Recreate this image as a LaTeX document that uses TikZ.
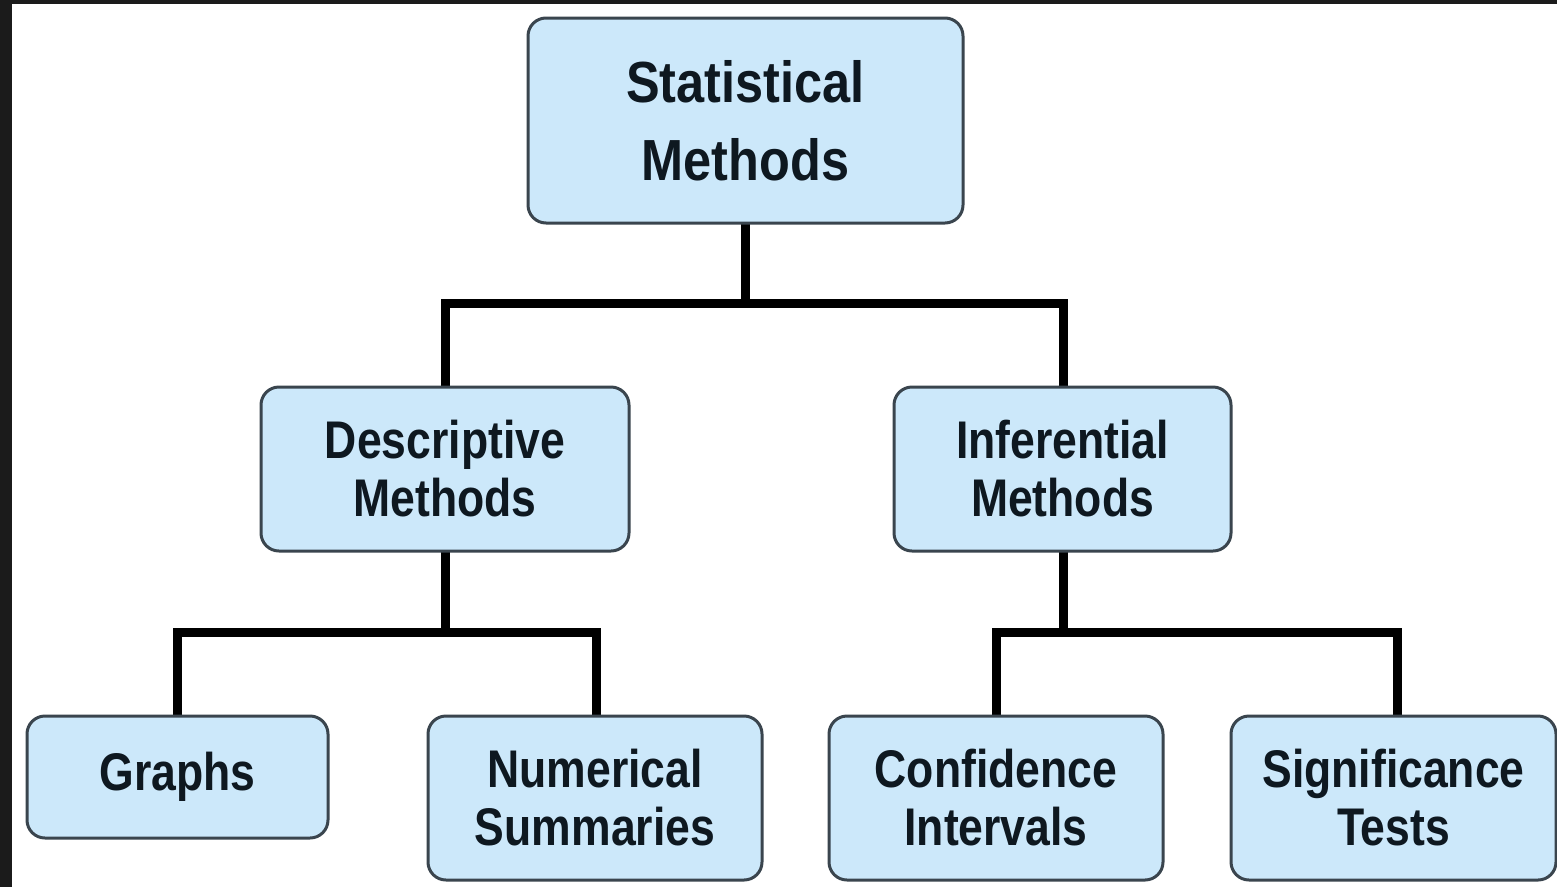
\documentclass[tikz,border=0pt]{standalone}
\usepackage{fontspec}
\newfontfamily\boxfont[FakeStretch=0.84]{Liberation Sans}
\newfontfamily\topfont[FakeStretch=0.87]{Liberation Sans}
\definecolor{boxfill}{HTML}{CCE8FA}
\definecolor{boxline}{HTML}{3A454E}
\definecolor{frame}{HTML}{1B1B1B}
\definecolor{txt}{HTML}{0E1820}
\tikzset{
  box/.style={draw=boxline, line width=3pt, fill=boxfill, rounded corners=18pt,
    text=txt, align=center, inner sep=0pt,
    font=\boxfont\bfseries\fontsize{53}{58}\selectfont},
  topbox/.style={box, font=\topfont\bfseries\fontsize{58}{78}\selectfont},
  conn/.style={line width=9pt, black, line join=miter}
}
\begin{document}
\begin{tikzpicture}[x=1pt,y=-1pt]
\useasboundingbox (0,0) rectangle (1557,887);
\fill[frame] (0,0) rectangle (1557,887);
\fill[white] (12,4) rectangle (1557,887);
% connectors
\coordinate (j1) at (745,303);
\coordinate (j2) at (445,632);
\coordinate (j3) at (1063,632);
\coordinate (dn) at (445,390);
\coordinate (in) at (1063,390);
\coordinate (gn) at (177,720);
\coordinate (nn) at (596,720);
\coordinate (cn) at (996,720);
\coordinate (sn) at (1397,720);
\coordinate (ts) at (745,220);
\coordinate (ds) at (445,548);
\coordinate (is) at (1063,548);
\draw[conn] (ts) -- (j1);
\draw[conn] (dn) |- (j1) -| (in);
\draw[conn] (ds) -- (j2);
\draw[conn] (gn) |- (j2) -| (nn);
\draw[conn] (is) -- (j3);
\draw[conn] (cn) |- (j3) -| (sn);
% boxes
\node[topbox, minimum width=435pt, minimum height=205pt] (top) at (745.5,120.5) {Statistical\\Methods};
\node[box, minimum width=368pt, minimum height=164pt] (desc) at (445,469) {Descriptive\\Methods};
\node[box, minimum width=337pt, minimum height=164pt] (inf) at (1062.5,469) {Inferential\\Methods};
\node[box, minimum width=301pt, minimum height=122pt] (graphs) at (177.5,777) {Graphs};
\node[box, minimum width=334pt, minimum height=164pt] (num) at (595,798) {Numerical\\Summaries};
\node[box, minimum width=334pt, minimum height=164pt] (conf) at (996,798) {Confidence\\Intervals};
\node[box, minimum width=325pt, minimum height=164pt] (sig) at (1393.5,798) {Significance\\Tests};
\end{tikzpicture}
\end{document}
